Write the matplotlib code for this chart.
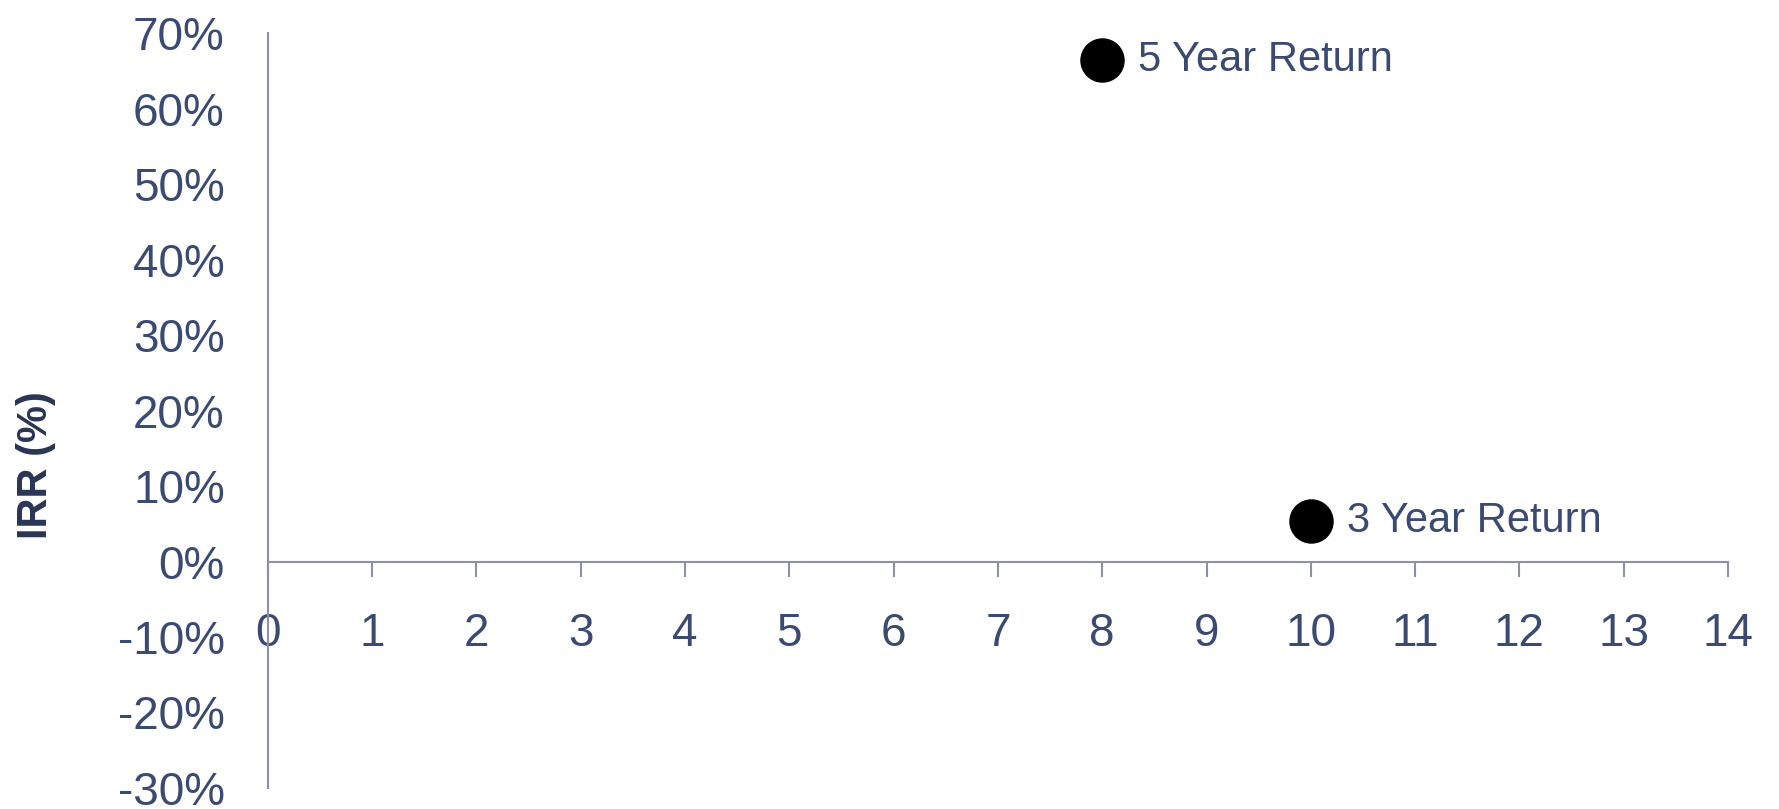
import matplotlib.pyplot as plt
from matplotlib.ticker import FuncFormatter

plt.rcParams['font.family'] = ['Liberation Sans', 'DejaVu Sans']

labels = ["5 Year Return", "3 Year Return"]
x_vals = [8, 10]
irr = [66.4, 5.4]
xticks = list(range(0, 15))
yticks = list(range(-30, 71, 10))

text_col = "#3b4a72"
axis_col = "#8e91a5"

fig = plt.figure(figsize=(17.79, 8.09), dpi=100)
ax = fig.add_axes([0.1506, 0.026, 0.8207, 0.933])

ax.plot(x_vals, irr, "o", color="black", markersize=31, linestyle="none", zorder=3, clip_on=False)
for lab, xv, yv in zip(labels, x_vals, irr):
    ax.annotate(lab, (xv, yv), xytext=(26, 0), textcoords="offset points",
                va="center", ha="left", fontsize=30, color=text_col)

ax.set_xlim(0, 14)
ax.set_ylim(-30, 70)
ax.set_xticks(xticks)
ax.set_yticks(yticks)
ax.yaxis.set_major_formatter(FuncFormatter(lambda v, p: f"{v:.0f}%"))

ax.spines["top"].set_visible(False)
ax.spines["right"].set_visible(False)
ax.spines["bottom"].set_position(("data", 0))
ax.spines["left"].set_position(("data", 0))
for s in ["bottom", "left"]:
    ax.spines[s].set_color(axis_col)
    ax.spines[s].set_linewidth(1.5)

ax.tick_params(axis="x", direction="out", length=11, width=1.5, color=axis_col,
               pad=25, labelsize=33, labelcolor=text_col)
ax.tick_params(axis="y", length=0, pad=31, labelsize=33, labelcolor=text_col)

fig.text(0.02, 0.425, "IRR (%)", rotation=90, va="center", ha="center",
         fontsize=30, fontweight="bold", color="#2a3555")

fig.savefig("out.png", dpi=100)
